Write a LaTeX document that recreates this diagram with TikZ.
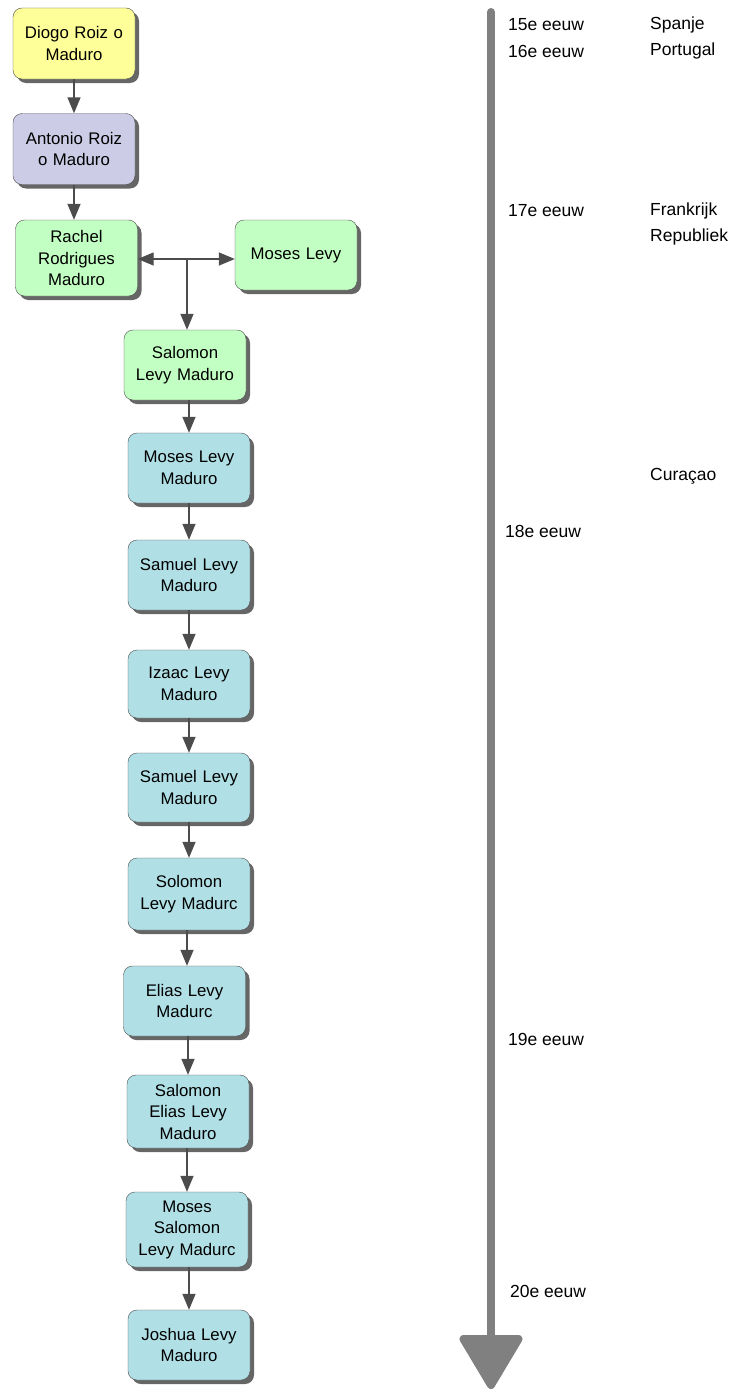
\documentclass[tikz,border=0pt]{standalone}
\usepackage{fontspec}
\setmainfont{Liberation Sans}
\usetikzlibrary{arrows.meta,positioning,shadows}

\definecolor{geel}{HTML}{FFFF99}
\definecolor{paars}{HTML}{CCCCE6}
\definecolor{groen}{HTML}{C2FFC2}
\definecolor{blauw}{HTML}{B0E0E6}

\begin{document}
\begin{tikzpicture}[
  x=1pt,y=-1pt,
  box/.style={draw=black!70,rounded corners=9pt,align=center,text width=118pt,
    minimum width=122pt,minimum height=71pt,inner sep=2pt,
    font=\fontsize{16.8}{21.5}\selectfont,
    drop shadow={shadow xshift=4pt,shadow yshift=-4pt,fill=black!60,opacity=1}},
  arr/.style={-{Triangle[length=16pt,width=13pt]},draw=black!70,line width=1.4pt},
  lbl/.style={anchor=west,inner sep=0pt,font=\fontsize{17.5}{20}\selectfont}
]
\useasboundingbox (0,0) rectangle (736,1389);

% stamboom
\node[box,fill=geel] (diogo) at (74,43.5) {Diogo Roiz o\\Maduro};
\node[box,fill=paars] (antonio) at (74,149) {Antonio Roiz\\o Maduro};
\node[box,fill=groen,minimum height=76pt] (rachel) at (76.5,258) {Rachel\\Rodrigues\\Maduro};
\node[box,fill=groen,minimum height=70pt] (moses) at (296,255) {Moses Levy};
\node[box,fill=groen,minimum width=120pt,minimum height=70pt] (salomon) at (185,365) {Salomon\\Levy Maduro};
\node[box,fill=blauw,minimum height=70pt] (mosesLM) at (189,468) {Moses Levy\\Maduro};
\node[box,fill=blauw,minimum height=70pt] (samuelA) at (189,575) {Samuel Levy\\Maduro};
\node[box,fill=blauw,minimum height=68pt] (izaac) at (189,684) {Izaac Levy\\Maduro};
\node[box,fill=blauw,minimum height=69pt] (samuelB) at (189,787.5) {Samuel Levy\\Maduro};
\node[box,fill=blauw,minimum height=72pt] (solomon) at (189,894) {Solomon\\Levy Madurc};
\node[box,fill=blauw,minimum height=70pt] (elias) at (184.5,1001) {Elias Levy\\Madurc};
\node[box,fill=blauw,minimum height=73pt] (salomonE) at (188,1111.5) {Salomon\\Elias Levy\\Maduro};
\node[box,fill=blauw,minimum height=75pt] (mosesS) at (187,1229.5) {Moses\\Salomon\\Levy Madurc};
\node[box,fill=blauw,minimum height=70pt] (joshua) at (189,1345) {Joshua Levy\\Maduro};

\draw[arr] (diogo) -- (antonio);
\draw[arr] (antonio.south) -- (antonio.south |- rachel.north);
\coordinate (huwelijk) at (187,259);
\draw[arr] (huwelijk) -- (rachel.east |- huwelijk);
\draw[arr] (huwelijk) -- (moses.west |- huwelijk);
\draw[arr] (huwelijk) -- (huwelijk |- salomon.north);
\draw[arr] (salomon.south -| mosesLM) -- (mosesLM);
\draw[arr] (mosesLM) -- (samuelA);
\draw[arr] (samuelA) -- (izaac);
\draw[arr] (izaac) -- (samuelB);
\draw[arr] (samuelB) -- (solomon);
\draw[arr] (solomon.south -| 187,0) -- (elias.north -| 187,0);
\draw[arr] (elias.south -| salomonE.north) -- (salomonE.north);
\draw[arr] (salomonE.south -| mosesS.north) -- (mosesS.north);
\draw[arr] (mosesS.south -| joshua.north) -- (joshua.north);

% tijdlijn
\coordinate (ttop) at (491,12);
\coordinate (tend) at (491,1389);
\draw[line width=8pt,draw=black!50,line cap=round,
  -{Triangle[length=58pt,width=67pt,round]}] (ttop) -- (tend);

\node[lbl] (e15) at (508,25) {15e eeuw};
\node[lbl] (e16) at (508,51) {16e eeuw};
\node[lbl] (e17) at (508,211) {17e eeuw};
\node[lbl] (e18) at (505,531) {18e eeuw};
\node[lbl] (e19) at (508,1039) {19e eeuw};
\node[lbl] (e20) at (510,1291) {20e eeuw};

\node[lbl] (spanje) at (650,25) {Spanje};
\node[lbl] (portugal) at (650,51) {Portugal};
\node[lbl] (frankrijk) at (650,211) {Frankrijk};
\node[lbl] (republiek) at (650,237) {Republiek};
\node[lbl] (curacao) at (650,476) {Curaçao};
\end{tikzpicture}
\end{document}
